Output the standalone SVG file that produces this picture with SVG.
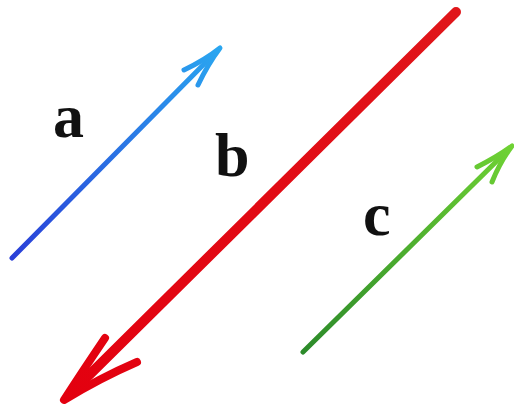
<svg xmlns="http://www.w3.org/2000/svg" width="514" height="411" viewBox="0 0 514 411">
<defs>
<linearGradient id="gb" gradientUnits="userSpaceOnUse" x1="12" y1="258" x2="220" y2="48"><stop offset="0" stop-color="#2a3fd8"/><stop offset="1" stop-color="#2aa6f0"/></linearGradient>
<linearGradient id="gr" gradientUnits="userSpaceOnUse" x1="456" y1="12" x2="63" y2="401"><stop offset="0" stop-color="#e0161a"/><stop offset="1" stop-color="#e3000f"/></linearGradient>
<linearGradient id="gg" gradientUnits="userSpaceOnUse" x1="303" y1="352" x2="512" y2="146"><stop offset="0" stop-color="#2c8a2a"/><stop offset="1" stop-color="#6fd234"/></linearGradient>
</defs>
<style>
.lbl{font-family:"Liberation Serif","DejaVu Serif",serif;font-weight:bold;font-size:62px;fill:#111}
.sh{fill:none;stroke-linecap:round;stroke-linejoin:round}
</style>
<rect width="514" height="411" fill="#fff"/>
<g id="connectors">
<g id="arrow-a" class="sh" stroke="url(#gb)">
<line x1="12" y1="258" x2="214" y2="54" stroke-width="5"/>
<path d="M184,70 Q205,60 220,48 Q208,64 198,85" stroke-width="5"/>
</g>
<g id="arrow-b" class="sh" stroke="url(#gr)">
<line x1="456" y1="12" x2="70" y2="394" stroke-width="10"/>
<path d="M105,338 Q82,372 64,400 Q100,378 137,362" stroke-width="8"/>
</g>
<g id="arrow-c" class="sh" stroke="url(#gg)">
<line x1="303" y1="352" x2="506" y2="152" stroke-width="5"/>
<path d="M477,167 Q497,157 512,146 Q500,162 492,182" stroke-width="5"/>
</g>
</g>
<g id="label-a"><text class="lbl" x="53" y="137">a</text></g>
<g id="label-b"><text class="lbl" x="215" y="176">b</text></g>
<g id="label-c"><text class="lbl" x="363" y="235">c</text></g>
</svg>
